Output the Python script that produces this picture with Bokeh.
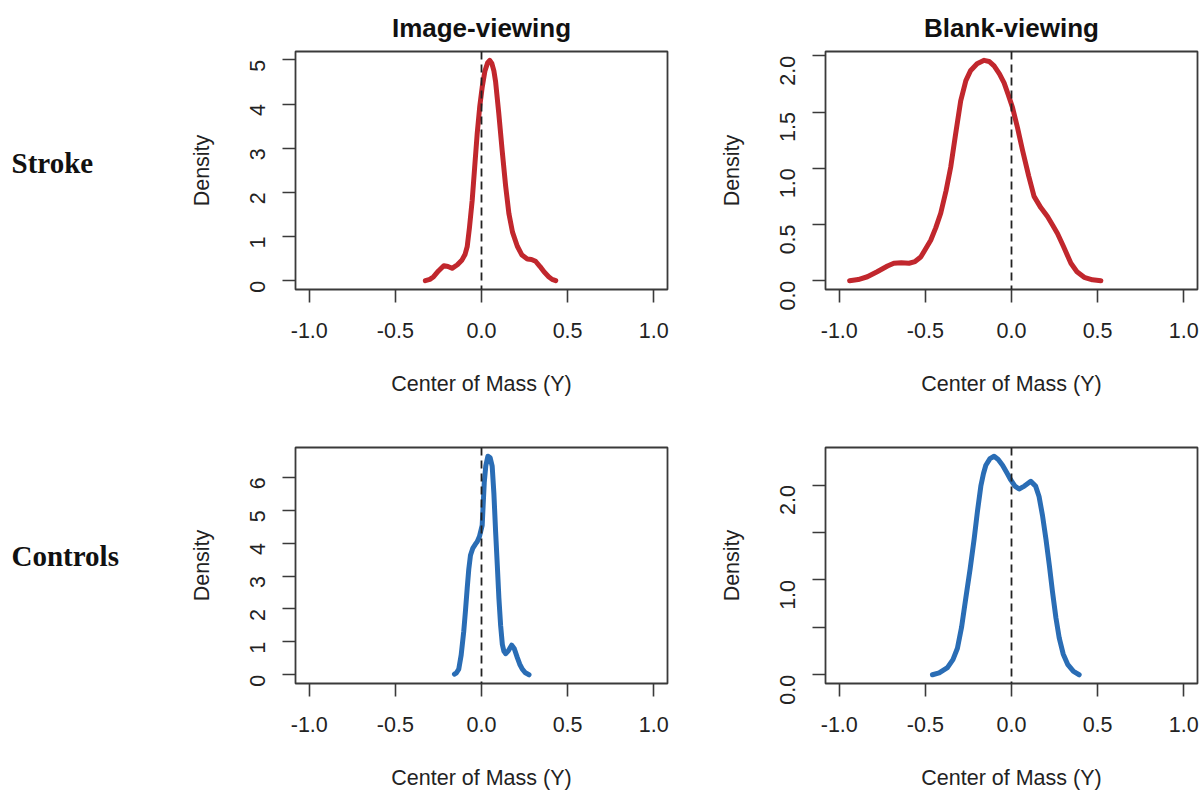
import math
from bokeh.plotting import figure
from bokeh.layouts import row, column
from bokeh.models import Range1d, FixedTicker, PrintfTickFormatter, CustomJSTickFormatter, Span, Label
from bokeh.embed import file_html
from bokeh.resources import INLINE

# ---------------- data ----------------
col_titles = ["Image-viewing", "Blank-viewing"]
row_titles = ["Stroke", "Controls"]
x_label = "Center of Mass (Y)"
y_label = "Density"
x_ticks = [-1.0, -0.5, 0.0, 0.5, 1.0]

stroke_image_x = [-0.326, -0.30, -0.278, -0.25, -0.219, -0.195, -0.171, -0.14, -0.113, -0.095,
                  -0.083, -0.07, -0.054, -0.04, -0.025, -0.01, 0.004, 0.02, 0.035, 0.048,
                  0.06, 0.072, 0.082, 0.10, 0.12, 0.14, 0.159, 0.18, 0.208, 0.235,
                  0.266, 0.29, 0.314, 0.34, 0.363, 0.39, 0.41, 0.431]
stroke_image_y = [0.0, 0.03, 0.09, 0.22, 0.34, 0.32, 0.28, 0.36, 0.47, 0.6,
                  0.77, 1.2, 1.82, 2.55, 3.33, 3.95, 4.38, 4.75, 4.93, 4.99,
                  4.92, 4.75, 4.5, 3.8, 2.95, 2.15, 1.52, 1.1, 0.78, 0.58,
                  0.49, 0.48, 0.44, 0.32, 0.2, 0.09, 0.03, 0.0]

stroke_blank_x = [-0.94, -0.89, -0.837, -0.78, -0.72, -0.683, -0.64, -0.595, -0.56, -0.527,
                  -0.50, -0.469, -0.44, -0.411, -0.38, -0.353, -0.325, -0.295, -0.265, -0.237,
                  -0.20, -0.159, -0.13, -0.101, -0.07, -0.043, -0.02, 0.006, 0.035, 0.064,
                  0.10, 0.131, 0.17, 0.209, 0.24, 0.267, 0.30, 0.345, 0.38, 0.422, 0.47, 0.519]
stroke_blank_y = [0.0, 0.01, 0.035, 0.08, 0.13, 0.155, 0.16, 0.155, 0.17, 0.21,
                  0.28, 0.36, 0.47, 0.6, 0.8, 1.01, 1.3, 1.6, 1.78, 1.87,
                  1.93, 1.96, 1.95, 1.91, 1.84, 1.76, 1.66, 1.54, 1.36, 1.16,
                  0.93, 0.75, 0.65, 0.57, 0.49, 0.42, 0.31, 0.155, 0.08, 0.03, 0.008, 0.0]

control_image_x = [-0.157, -0.145, -0.132, -0.118, -0.103, -0.093, -0.083, -0.074, -0.064, -0.05,
                   -0.035, -0.025, -0.012, 0.004, 0.01, 0.016, 0.025, 0.037, 0.05, 0.062,
                   0.072, 0.082, 0.092, 0.101, 0.111, 0.121, 0.13, 0.14, 0.155, 0.175,
                   0.19, 0.208, 0.222, 0.237, 0.255, 0.276]
control_image_y = [0.02, 0.06, 0.17, 0.6, 1.32, 1.95, 2.63, 3.2, 3.63, 3.85,
                   3.97, 4.04, 4.2, 4.54, 5.2, 5.84, 6.35, 6.64, 6.6, 6.34,
                   5.5, 4.34, 3.3, 2.33, 1.5, 0.92, 0.72, 0.64, 0.72, 0.9,
                   0.8, 0.52, 0.32, 0.17, 0.06, 0.0]

control_blank_x = [-0.459, -0.42, -0.372, -0.34, -0.314, -0.29, -0.266, -0.24, -0.217, -0.198,
                   -0.178, -0.163, -0.149, -0.125, -0.101, -0.077, -0.052, -0.027, -0.004, 0.02,
                   0.044, 0.075, 0.112, 0.14, 0.16, 0.18, 0.2, 0.22, 0.238, 0.258,
                   0.277, 0.30, 0.326, 0.36, 0.393]
control_blank_y = [0.0, 0.02, 0.076, 0.16, 0.28, 0.5, 0.8, 1.12, 1.43, 1.72,
                   1.99, 2.12, 2.21, 2.28, 2.305, 2.27, 2.21, 2.13, 2.055, 1.99,
                   1.96, 1.99, 2.04, 1.99, 1.88, 1.68, 1.43, 1.15, 0.875, 0.6,
                   0.39, 0.22, 0.11, 0.035, 0.0]

y_ticks_si = [0, 1, 2, 3, 4, 5]
y_ticks_sb = [0.0, 0.5, 1.0, 1.5, 2.0]
y_ticks_ci = [0, 1, 2, 3, 4, 5, 6]
y_ticks_cb = [0.0, 0.5, 1.0, 1.5, 2.0]

RED = "#c1272d"
BLUE = "#2a6db5"
INK = "#222222"
AX = "#3a3a3a"
FONT = "Liberation Sans"


def panel(x, y, color, yticks, yfmt, title, width, height, bl, br, bt, bb):
    ymax = max(y)
    p = figure(width=width, height=height, output_backend="svg", toolbar_location=None,
               x_range=Range1d(-1.08, 1.08), y_range=Range1d(-0.04 * ymax, 1.04 * ymax),
               min_border_left=bl, min_border_right=br, min_border_top=bt, min_border_bottom=bb)
    p.grid.visible = False
    p.outline_line_color = AX
    p.outline_line_width = 1.8
    p.background_fill_color = "white"
    p.border_fill_color = "white"
    if title:
        p.title.text = title
        p.title.align = "center"
        p.title.text_font = FONT
        p.title.text_font_size = "26px"
        p.title.text_font_style = "bold"
        p.title.text_color = "#111111"
        p.title.standoff = 17
    for ax in (p.xaxis[0], p.yaxis[0]):
        ax.axis_line_color = None
        ax.major_tick_out = 13
        ax.major_tick_in = 0
        ax.minor_tick_line_color = None
        ax.major_tick_line_color = AX
        ax.major_tick_line_width = 1.6
        ax.major_label_text_font = FONT
        ax.major_label_text_font_size = "21.5px"
        ax.major_label_text_color = INK
        ax.axis_label_text_font = FONT
        ax.axis_label_text_font_size = "21.5px"
        ax.axis_label_text_font_style = "normal"
        ax.axis_label_text_color = INK
    p.xaxis.major_label_standoff = 20
    p.xaxis.axis_label_standoff = 31
    p.yaxis.major_label_standoff = 25
    p.yaxis.axis_label_standoff = 26
    p.xaxis.ticker = FixedTicker(ticks=x_ticks)
    p.xaxis.formatter = PrintfTickFormatter(format="%.1f")
    p.xaxis.axis_label = x_label
    p.yaxis.ticker = FixedTicker(ticks=yticks)
    p.yaxis.formatter = yfmt
    p.yaxis.major_label_orientation = math.pi / 2
    p.yaxis.axis_label = y_label
    p.add_layout(Span(location=0, dimension="height", line_color="#222222",
                      line_width=1.8, line_dash="8 5"))
    p.line(x, y, line_color=color, line_width=5, line_join="round", line_cap="round")
    return p


def side(text, height, ypos):
    s = figure(width=180, height=height, output_backend="svg", toolbar_location=None,
               x_range=Range1d(0, 180), y_range=Range1d(height, 0),
               x_axis_type=None, y_axis_type=None, min_border=0)
    s.grid.visible = False
    s.outline_line_color = None
    s.add_layout(Label(x=11, y=ypos, text=text, text_font="Liberation Serif",
                       text_font_size="29px", text_font_style="bold",
                       text_color="#111111", text_baseline="middle", text_align="left"))
    return s


int_fmt = PrintfTickFormatter(format="%d")
one_fmt = PrintfTickFormatter(format="%.1f")
whole_fmt = CustomJSTickFormatter(code="return (Math.abs(tick - Math.round(tick)) < 1e-9) ? tick.toFixed(1) : '';")

p1 = panel(stroke_image_x, stroke_image_y, RED, y_ticks_si, int_fmt, col_titles[0], 520, 400, 115, 33, 51, 111)
p2 = panel(stroke_blank_x, stroke_blank_y, RED, y_ticks_sb, one_fmt, col_titles[1], 501, 400, 125, 4, 51, 111)
p3 = panel(control_image_x, control_image_y, BLUE, y_ticks_ci, int_fmt, None, 520, 392, 115, 33, 47, 106)
p4 = panel(control_blank_x, control_blank_y, BLUE, y_ticks_cb, whole_fmt, None, 501, 392, 125, 4, 47, 106)

s1 = side(row_titles[0], 400, 188)
s2 = side(row_titles[1], 392, 180)

layout = column(row(s1, p1, p2), row(s2, p3, p4))

open("out.html", "w").write(file_html(layout, INLINE))
